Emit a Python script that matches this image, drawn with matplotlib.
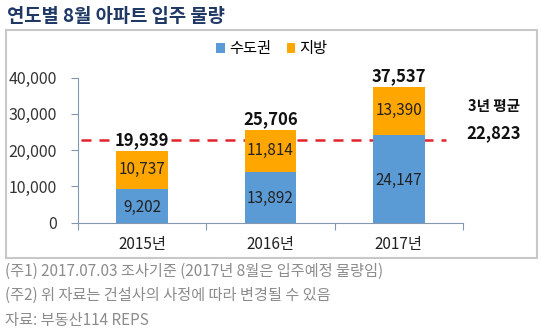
import matplotlib
matplotlib.use("Agg")
import matplotlib.pyplot as plt
from matplotlib.patches import Rectangle
import numpy as np

plt.rcParams['font.family'] = ['Noto Sans CJK KR', 'DejaVu Sans']

categories = ["2015년", "2016년", "2017년"]
metro = [9202, 13892, 24147]
local = [10737, 11814, 13390]
totals = [19939, 25706, 37537]
avg_value = 22823
series_names = ["수도권", "지방"]
title = "연도별 8월 아파트 입주 물량"
notes = ["(주1) 2017.07.03 조사기준 (2017년 8월은 입주예정 물량임)",
         "(주2) 위 자료는 건설사의 사정에 따라 변경될 수 있음",
         "자료: 부동산114 REPS"]

W, H = 540, 335
fig = plt.figure(figsize=(W/100, H/100), dpi=100)

def fx(px): return px / W
def fy(py): return 1 - py / H

# frame box
fig.patches.append(Rectangle((fx(6), fy(258)), fx(531) - fx(0), fy(30) - fy(258),
                             transform=fig.transFigure, fill=False,
                             edgecolor="#C8C8C8", linewidth=1.5))

fig.text(fx(7), fy(16), title, fontsize=13.5, fontweight='bold', color="#1F3864",
         va='center', ha='left')

ax = fig.add_axes([fx(78), fy(222.5), fx(463) - fx(78), fy(77.5) - fy(222.5)])
blue = "#5B9BD5"
orange = "#FFA600"
x = np.arange(len(categories))
bw = 0.4
ax.bar(x, metro, bw, color=blue, label=series_names[0], zorder=3)
ax.bar(x, local, bw, bottom=metro, color=orange, label=series_names[1], zorder=3)
ax.set_xlim(-0.5, 2.5)
ax.set_ylim(0, 40000)
ax.set_yticks(range(0, 40001, 10000))
ax.set_yticklabels([f"{v:,}" for v in range(0, 40001, 10000)], fontsize=11.5, color="#333333")
ax.set_xticks([-0.5, 0.5, 1.5, 2.5], minor=False)
ax.set_xticklabels([])
ax.set_xticks(x, minor=True)
ax.set_xticklabels(categories, minor=True, fontsize=11, color="#222222")
ax.tick_params(axis='x', which='minor', length=0, pad=10)
ax.tick_params(axis='x', which='major', length=5, direction='out', color="#8497B0")
ax.tick_params(axis='y', length=5, direction='out', color="#8497B0", pad=10)
for s in ['top', 'right']:
    ax.spines[s].set_visible(False)
ax.spines['left'].set_color("#8497B0")
ax.spines['bottom'].set_color("#8497B0")
ax.spines['left'].set_zorder(4)
ax.spines['bottom'].set_zorder(4)
ax.patch.set_alpha(0)

for i in range(len(categories)):
    ax.text(x[i], metro[i] / 2 - 400, f"{metro[i]:,}", ha='center', va='center',
            fontsize=11, color="#222222", zorder=5)
    ax.text(x[i], metro[i] + local[i] / 2, f"{local[i]:,}", ha='center', va='center',
            fontsize=11, color="#222222", zorder=5)
    ax.text(x[i], totals[i] + 2800, f"{totals[i]:,}", ha='center', va='center',
            fontsize=12, fontweight='bold', color="#111111", zorder=5,
            bbox=dict(boxstyle='square,pad=0.1', facecolor='white', edgecolor='none'))

ax.plot([-0.48, 2.37], [avg_value, avg_value], color="#E0242A", linestyle=(0, (4, 3.2)),
        linewidth=1.8, clip_on=False, zorder=2)
fig.text(fx(494), fy(106), "3년 평균", fontsize=10.5, fontweight='bold', ha='center',
         va='center', color="#111111")
fig.text(fx(494), fy(133), f"{avg_value:,}", fontsize=12, fontweight='bold', ha='center',
         va='center', color="#111111")

leg = fig.legend(handles=[ax.patches[0], ax.patches[3]],
                 labels=series_names, loc='center', bbox_to_anchor=(fx(272), fy(49)),
                 ncol=2, frameon=False, fontsize=11, handlelength=0.55, handleheight=0.55,
                 handletextpad=0.3, columnspacing=1.0)

for i, n in enumerate(notes):
    fig.text(fx(5), fy(271 + 24.5 * i), n, fontsize=11, color="#8C8C8C", va='center', ha='left')

fig.savefig("out.png", dpi=100)
